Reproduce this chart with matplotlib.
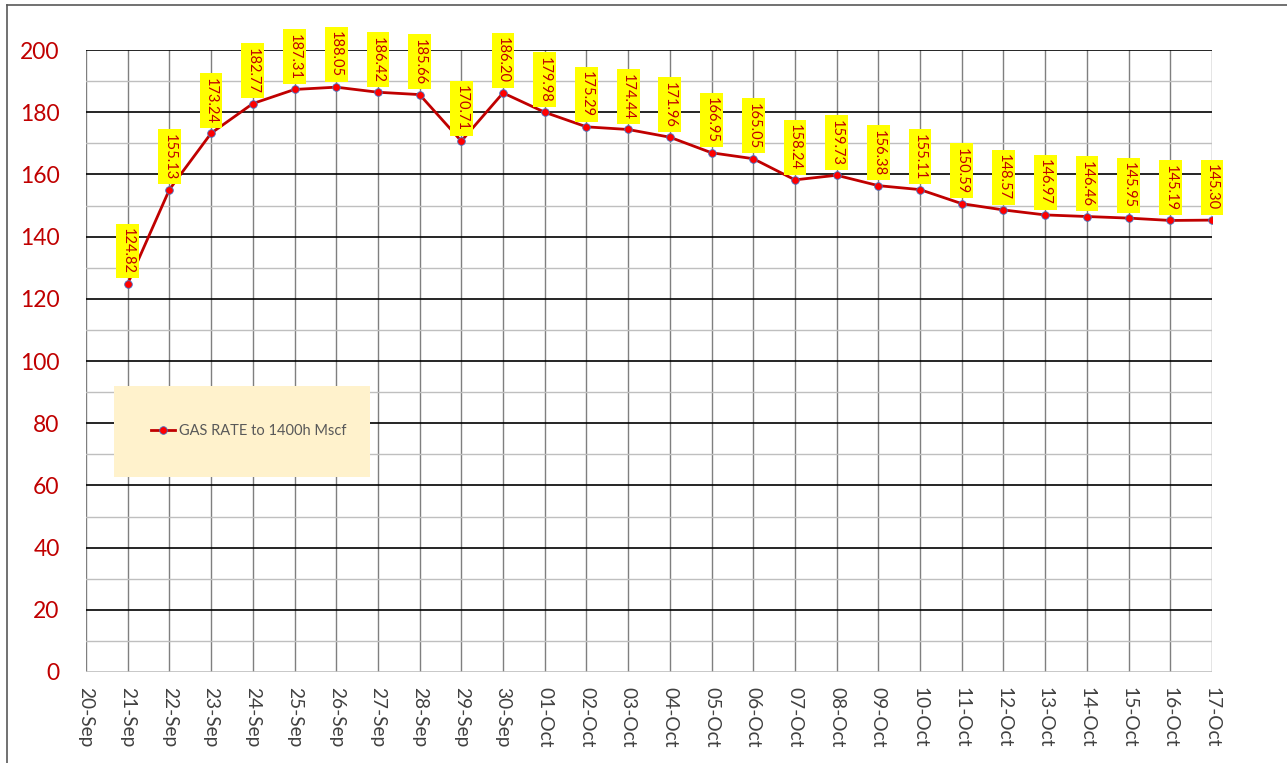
import matplotlib
matplotlib.use("Agg")
import matplotlib.pyplot as plt
from matplotlib.patches import Rectangle
from matplotlib.lines import Line2D

plt.rcParams['font.family'] = ['Lato', 'DejaVu Sans']

dates = ["20-Sep", "21-Sep", "22-Sep", "23-Sep", "24-Sep", "25-Sep", "26-Sep",
         "27-Sep", "28-Sep", "29-Sep", "30-Sep", "01-Oct", "02-Oct", "03-Oct",
         "04-Oct", "05-Oct", "06-Oct", "07-Oct", "08-Oct", "09-Oct", "10-Oct",
         "11-Oct", "12-Oct", "13-Oct", "14-Oct", "15-Oct", "16-Oct", "17-Oct"]
gas_dates = dates[1:]
gas_rate = [124.82, 155.13, 173.24, 182.77, 187.31, 188.05, 186.42, 185.66,
            170.71, 186.20, 179.98, 175.29, 174.44, 171.96, 166.95, 165.05,
            158.24, 159.73, 156.38, 155.11, 150.59, 148.57, 146.97, 146.46,
            145.95, 145.19, 145.30]
series_name = "GAS RATE to 1400h Mscf"
y_ticks = list(range(0, 201, 20))

fig = plt.figure(figsize=(12.87, 7.63), dpi=100)
ax = fig.add_axes([86/1287, 91/763, 1126/1287, 622/763])

xpos = {d: i for i, d in enumerate(dates)}
xs = [xpos[d] for d in gas_dates]

ax.set_xlim(0, len(dates) - 1)
ax.set_ylim(0, 200)
ax.set_xticks(range(len(dates)))
ax.set_xticklabels(dates, rotation=-90, ha='center', va='top', fontsize=13.8, color='#404040')
ax.set_yticks(y_ticks)
ax.set_yticklabels([str(v) for v in y_ticks], fontsize=16.5, color='#C00000')
ax.set_yticks(range(10, 200, 20), minor=True)
ax.tick_params(axis='both', which='both', length=0)
ax.tick_params(axis='y', pad=19)
ax.tick_params(axis='x', pad=11)

ax.set_axisbelow(True)
ax.grid(axis='y', which='major', color='black', lw=1.2, zorder=0.6)
ax.grid(axis='y', which='minor', color='#BFBFBF', lw=1.0, zorder=0.5)
ax.grid(axis='x', which='major', color='#7F7F7F', lw=1.0, zorder=0.5)
gl = ax.yaxis.get_gridlines()
if len(gl):
    gl[0].set_color('#BFBFBF')
for s in ax.spines.values():
    s.set_visible(False)

# legend background
ax.add_patch(Rectangle((28/1126, 195/622), 256/1126, 91/622, transform=ax.transAxes,
                       facecolor='#FFF2CC', edgecolor='none', zorder=1.5))

ax.plot(xs, gas_rate, color='#C00000', lw=2, marker='o', markersize=5.5,
        markerfacecolor='#FF0000', markeredgecolor='#4472C4', markeredgewidth=0.6,
        zorder=3, label=series_name)

for x, v in zip(xs, gas_rate):
    ax.annotate(f"{v:.2f}", (x, v), xytext=(0, 7), textcoords='offset points',
                rotation=-90, ha='center', va='bottom', fontsize=10.5, color='#C00000',
                bbox=dict(boxstyle='square,pad=0.3', facecolor='#FFFF00', edgecolor='none'),
                zorder=4)

handle = Line2D([], [], color='#C00000', lw=2, marker='o', markersize=5.5,
                markerfacecolor='#FF0000', markeredgecolor='#4472C4', markeredgewidth=0.6)
leg = ax.legend([handle], [series_name], loc='center left',
                bbox_to_anchor=(58/1126, 241/622), frameon=False, fontsize=10.5,
                borderpad=0, handlelength=1.6, handletextpad=0.3, labelcolor='#595959')
leg.set_zorder(5)

# outer chart border
fig.add_artist(Line2D([7/1287, 7/1287], [0, 1 - 5/763], transform=fig.transFigure,
                      color='#595959', lw=1.2))
fig.add_artist(Line2D([7/1287, 1], [1 - 5/763, 1 - 5/763], transform=fig.transFigure,
                      color='#595959', lw=1.2))

fig.savefig("out.png", dpi=100)
